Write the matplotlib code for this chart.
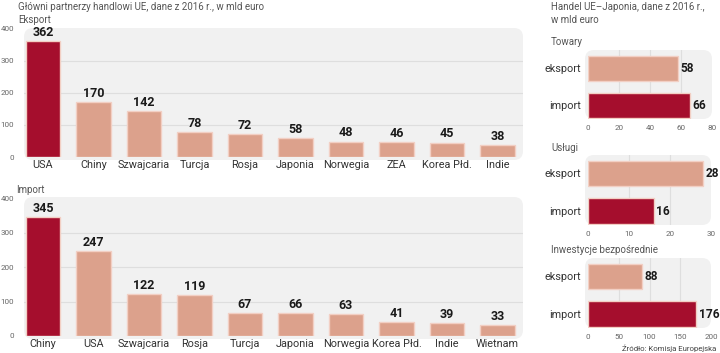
import matplotlib
matplotlib.use("Agg")
import matplotlib.pyplot as plt
from matplotlib.patches import FancyBboxPatch

# ---------------- data ----------------
export_countries = ["USA", "Chiny", "Szwajcaria", "Turcja", "Rosja", "Japonia",
                    "Norwegia", "ZEA", "Korea Płd.", "Indie"]
export_values = [362, 170, 142, 78, 72, 58, 48, 46, 45, 38]

import_countries = ["Chiny", "USA", "Szwajcaria", "Rosja", "Turcja", "Japonia",
                    "Norwegia", "Korea Płd.", "Indie", "Wietnam"]
import_values = [345, 247, 122, 119, 67, 66, 63, 41, 39, 33]

jp_labels = ["eksport", "import"]
jp_towary = [58, 66]
jp_uslugi = [28, 16]
jp_inwestycje = [88, 176]

left_ticks = [0, 100, 200, 300, 400]
towary_ticks = [0, 20, 40, 60, 80]
uslugi_ticks = [0, 10, 20, 30]
inwest_ticks = [0, 50, 100, 150, 200]

# ---------------- style ----------------
DARK = "#a50e2d"
LIGHT = "#dca18c"
EDGE = "#f2cfc4"
BG = "#f1f1f1"
GRID = "#dedede"
TXT = "#333333"
GRAYTXT = "#666666"
W, H = 720, 353
FONT = ["Roboto", "DejaVu Sans"]
BOLD = ["Roboto", "DejaVu Sans"]

plt.rcParams["font.family"] = FONT

fig = plt.figure(figsize=(W / 100, H / 100), dpi=100)


def ax_px(x0, y0, x1, y1):
    """axes from pixel box (top-left origin)"""
    a = fig.add_axes([x0 / W, 1 - y1 / H, (x1 - x0) / W, (y1 - y0) / H])
    a.set_zorder(2)
    return a


def bg_px(x0, y0, x1, y1, r=0.09):
    p = FancyBboxPatch(((x0) / 100, (H - y1) / 100), (x1 - x0) / 100, (y1 - y0) / 100,
                       boxstyle=f"round,pad=0,rounding_size={r}",
                       transform=fig.dpi_scale_trans, facecolor=BG,
                       edgecolor="none", zorder=-1)
    fig.patches.append(p)


def clean(ax):
    ax.set_facecolor("none")
    for s in ax.spines.values():
        s.set_visible(False)


def vertical_panel(ax, cats, vals):
    clean(ax)
    x = list(range(len(cats)))
    colors = [DARK] + [LIGHT] * (len(cats) - 1)
    ax.bar(x, vals, width=0.68, color=colors, edgecolor=EDGE, linewidth=1.0, zorder=3)
    for xi, v in zip(x, vals):
        ax.annotate(str(v), (xi, v), xytext=(0, 1.5), textcoords="offset points",
                    ha="center", va="bottom", fontsize=9, fontweight="bold",
                    family=BOLD, color="#1a1a1a")
    ax.set_xlim(-0.376, 9.505)
    ax.set_ylim(0, 400)
    ax.set_yticks(left_ticks)
    ax.set_yticklabels([str(t) for t in left_ticks], fontsize=5.8, color=GRAYTXT)
    ax.tick_params(axis="y", length=0, pad=7)
    ax.set_xticks(x)
    ax.set_xticklabels(cats, fontsize=7.8, color=TXT)
    ax.tick_params(axis="x", length=0, pad=2.5)
    for t in [100, 200, 300]:
        ax.axhline(t, color=GRID, linewidth=0.8, zorder=1)


def horizontal_panel(ax, vals, ticks, xmax):
    clean(ax)
    y = [0, 1]
    ax.barh(y, vals, height=0.68, color=[LIGHT, DARK], edgecolor=EDGE,
            linewidth=1.0, zorder=3)
    for yi, v in zip(y, vals):
        ax.annotate(str(v), (v, yi), xytext=(1.8, 0), textcoords="offset points",
                    ha="left", va="center", fontsize=8.6, fontweight="bold",
                    family=BOLD, color="#1a1a1a", annotation_clip=False)
    ax.set_xlim(0, xmax)
    ax.set_ylim(1.37, -0.49)
    ax.set_yticks(y)
    ax.set_yticklabels(jp_labels, fontsize=7.8, color=TXT)
    ax.tick_params(axis="y", length=0, pad=5)
    ax.set_xticks(ticks)
    ax.set_xticklabels([str(t) for t in ticks], fontsize=5.8, color=GRAYTXT)
    ax.tick_params(axis="x", length=0, pad=4)
    for t in ticks[1:-1]:
        ax.axvline(t, color=GRID, linewidth=0.8, zorder=1)


# ---- left panels ----
bg_px(24, 28, 523, 160)
ax1 = ax_px(24, 28.5, 523, 157)
vertical_panel(ax1, export_countries, export_values)

bg_px(24, 197, 523, 339)
ax2 = ax_px(24, 198.5, 523, 336)
vertical_panel(ax2, import_countries, import_values)

# ---- right panels ----
bg_px(585, 50, 712, 119)
ax3 = ax_px(588, 50, 712, 119)
horizontal_panel(ax3, jp_towary, towary_ticks, 80)

bg_px(585, 155, 711, 225)
ax4 = ax_px(588, 155, 711, 225)
horizontal_panel(ax4, jp_uslugi, uslugi_ticks, 30)

bg_px(585, 258, 711, 328)
ax5 = ax_px(588, 258, 711, 328)
horizontal_panel(ax5, jp_inwestycje, inwest_ticks, 200)

# ---- texts ----
def ftxt(x, y, s, **kw):
    kw.setdefault("fontsize", 7.0)
    kw.setdefault("color", "#555555")
    fig.text(x / W, 1 - y / H, s, va="center", **kw)

ftxt(18, 7, "Główni partnerzy handlowi UE, dane z 2016 r., w mld euro")
ftxt(18, 20, "Eksport")
ftxt(16, 190, "Import")
ftxt(551, 7, "Handel UE–Japonia, dane z 2016 r.,")
ftxt(551, 20, "w mld euro")
ftxt(551, 42, "Towary")
ftxt(551, 148, "Usługi")
ftxt(551, 250, "Inwestycje bezpośrednie")
ftxt(716, 348, "Źródło: Komisja Europejska", fontsize=5.6, ha="right", color="#444444")

fig.savefig("out.png", dpi=100)
